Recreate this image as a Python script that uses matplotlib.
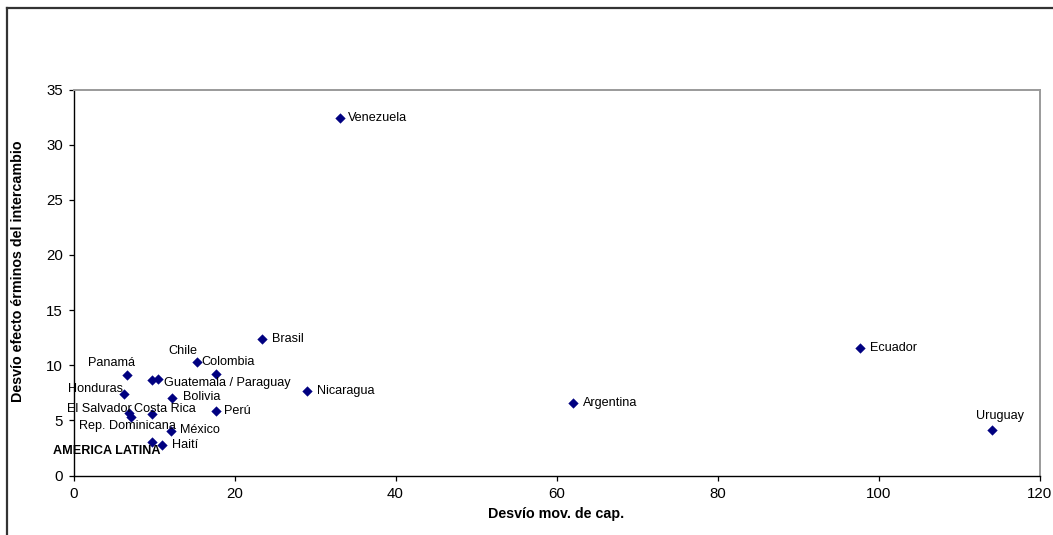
import matplotlib
matplotlib.use("Agg")
import matplotlib.pyplot as plt
from matplotlib.lines import Line2D

plt.rcParams['font.family'] = ['Liberation Sans', 'DejaVu Sans']

# ---- data ----
countries = ["Venezuela", "Brasil", "Ecuador", "Colombia", "Chile", "Panamá",
             "Guatemala", "Paraguay", "Honduras", "Nicaragua", "Bolivia",
             "Argentina", "Perú", "El Salvador", "Costa Rica", "Rep. Dominicana",
             "México", "Uruguay", "AMERICA LATINA", "Haití"]
desvio_mov_cap = [33.1, 23.45, 97.7, 15.3, 17.7, 6.68,
                  9.79, 10.5, 6.27, 29.04, 12.24,
                  62.1, 17.74, 6.86, 9.79, 7.14,
                  12.07, 114.1, 9.79, 10.95]
desvio_terminos = [32.4, 12.37, 11.6, 10.3, 9.19, 9.07,
                   8.65, 8.74, 7.43, 7.70, 7.01,
                   6.56, 5.86, 5.65, 5.56, 5.28,
                   4.01, 4.1, 3.01, 2.8]
point_labels = ["Venezuela", "Brasil", "Ecuador", "Colombia", "Chile", "Panamá",
                "", "Guatemala / Paraguay", "Honduras", "Nicaragua", "Bolivia",
                "Argentina", "Perú", "El Salvador", "Costa Rica", "Rep. Dominicana",
                "México", "Uruguay", "AMERICA LATINA", "Haití"]
x_ticks = [0, 20, 40, 60, 80, 100, 120]
y_ticks = [0, 5, 10, 15, 20, 25, 30, 35]

# label placement (offset in pixels, horizontal alignment)
label_offsets = [(8, 0, 'left'), (10, 0, 'left'), (10, 0, 'left'), (5, 0, 'left'),
                 (-19, 23.5, 'right'), (-15.5, 12, 'center'),
                 (0, 0, 'left'), (6, -4, 'left'), (-1, 4.7, 'right'),
                 (10, 0, 'left'), (11, 1.6, 'left'), (10, 0, 'left'),
                 (8, 0, 'left'), (3.5, 4, 'right'), (-18, 5, 'left'),
                 (-4, -8.7, 'center'), (9.5, 1, 'left'), (7.5, 14.3, 'center'),
                 (8, -8.4, 'right'), (10, 0, 'left')]

W, H = 1053, 535
fig = plt.figure(figsize=(W / 100, H / 100), dpi=100)
fig.patch.set_facecolor('white')

x0, x1, y0, y1 = 73.5, 1039.5, 475.5, 89.5
ax = fig.add_axes([x0 / W, 1 - y0 / H, (x1 - x0) / W, (y0 - y1) / H])

ax.scatter(desvio_mov_cap, desvio_terminos, marker='D', s=24, color='#000080',
           edgecolors='#000080', linewidths=0.3, zorder=3)

for xv, yv, lab, (dx, dy, ha) in zip(desvio_mov_cap, desvio_terminos,
                                      point_labels, label_offsets):
    if not lab:
        continue
    bold = lab == "AMERICA LATINA"
    ax.annotate(lab, (xv, yv), xytext=(dx, dy), textcoords='offset pixels',
                ha=ha, va='center', fontsize=9.1,
                fontweight='bold' if bold else 'normal', color='black')

ax.set_xlim(0, 120)
ax.set_ylim(0, 35)
ax.set_xticks(x_ticks)
ax.set_yticks(y_ticks)
ax.set_xticklabels([str(t) for t in x_ticks])
ax.set_yticklabels([str(t) for t in y_ticks])
ax.tick_params(axis='both', direction='out', length=3.5, width=0.9,
               labelsize=10.8, colors='black')
ax.tick_params(axis='x', pad=5)
ax.tick_params(axis='y', pad=4)

for side in ['left', 'bottom']:
    ax.spines[side].set_color('black')
    ax.spines[side].set_linewidth(1.0)
for side in ['top', 'right']:
    ax.spines[side].set_color('#9a9a9a')
    ax.spines[side].set_linewidth(1.4)

fig.text(556.5 / W, 1 - 514 / H, "Desvío mov. de cap.", ha='center', va='center',
         fontsize=10.3, fontweight='bold')
fig.text(18 / W, 1 - 271 / H, "Desvío efecto érminos del intercambio",
         ha='center', va='center', rotation=90, fontsize=10.3, fontweight='bold')

# outer chart frame (cropped at right and bottom)
fig.add_artist(Line2D([6.5 / W, 1.0], [1 - 7.5 / H, 1 - 7.5 / H],
                      transform=fig.transFigure, color='#333333', linewidth=1.6))
fig.add_artist(Line2D([6.5 / W, 6.5 / W], [0.0, 1 - 7.5 / H],
                      transform=fig.transFigure, color='#333333', linewidth=1.6))

fig.savefig("out.png", dpi=100, facecolor='white')
